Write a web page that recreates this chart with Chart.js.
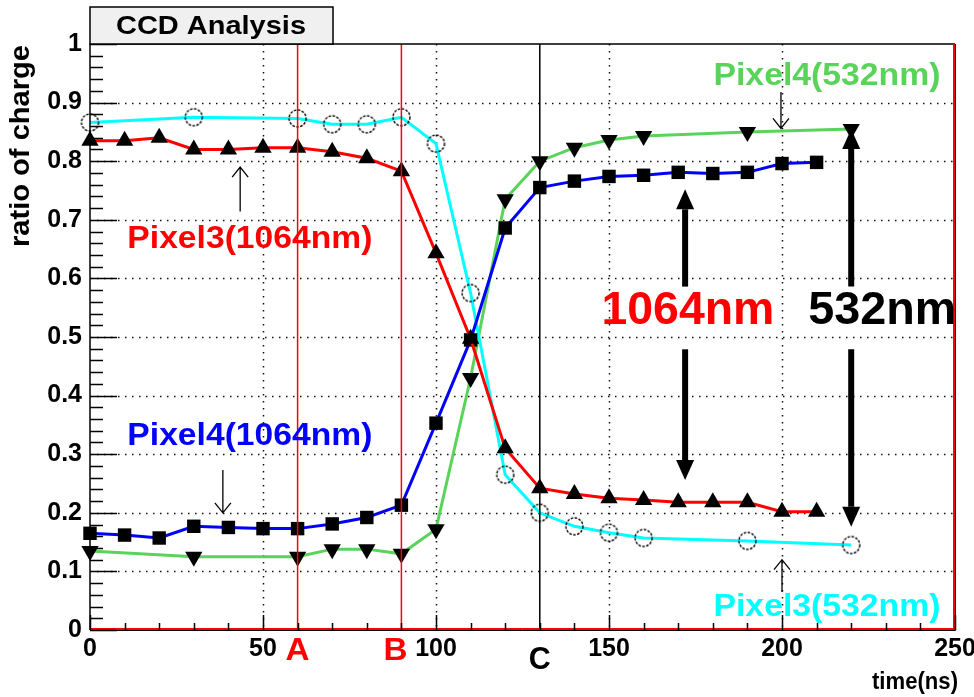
<!DOCTYPE html>
<html>
<head>
<meta charset="utf-8">
<script src="https://cdn.jsdelivr.net/npm/chart.js@4.4.1/dist/chart.umd.min.js"></script>
<style>
  html, body { margin: 0; padding: 0; background: #fff; }
  .chart-view { width: 974px; height: 697px; }
</style>
</head>
<body>
<div class="chart-view"><canvas class="chart" width="974" height="697"></canvas></div>
<script>
// 1064nm scans: every 10 ns
const times1064 = [0, 10, 20, 30, 40, 50, 60, 70, 80, 90, 100, 110, 120, 130, 140, 150, 160, 170, 180, 190, 200, 210];
const pixel3_1064 = [0.835, 0.835, 0.84, 0.82, 0.82, 0.823, 0.823, 0.816, 0.805, 0.783, 0.643, 0.497, 0.31, 0.242, 0.232, 0.225, 0.222, 0.218, 0.218, 0.218, 0.202, 0.202];
const pixel4_1064 = [0.165, 0.162, 0.157, 0.177, 0.175, 0.173, 0.173, 0.181, 0.192, 0.213, 0.353, 0.495, 0.686, 0.755, 0.766, 0.774, 0.776, 0.781, 0.779, 0.781, 0.796, 0.798];

// 532nm scans
const times532 = [0, 30, 60, 70, 80, 90, 100, 110, 120, 130, 140, 150, 160, 190, 220];
const pixel3_532 = [0.866, 0.875, 0.873, 0.863, 0.863, 0.875, 0.83, 0.575, 0.265, 0.2, 0.177, 0.166, 0.157, 0.152, 0.145];
const pixel4_532 = [0.135, 0.125, 0.125, 0.138, 0.138, 0.13, 0.172, 0.43, 0.735, 0.8, 0.823, 0.836, 0.843, 0.85, 0.855];

// reference times A, B, C
const refLabels = ['A', 'B', 'C'];
const refTimes = [60, 90, 130];

const xTickLabels = ['0', '50', '100', '150', '200', '250'];
const yTickLabels = ['0', '0.1', '0.2', '0.3', '0.4', '0.5', '0.6', '0.7', '0.8', '0.9', '1'];

const FONT = '"Liberation Sans", Arial, sans-serif';

const toPoints = (xs, ys) => xs.map((x, i) => ({ x, y: ys[i] }));

// open circle marker with a dotted outline
function dottedCircle() {
  const c = document.createElement('canvas');
  c.width = 21;
  c.height = 21;
  const g = c.getContext('2d');
  g.strokeStyle = '#000';
  g.lineWidth = 1.4;
  g.setLineDash([2.6, 1.4]);
  g.beginPath();
  g.arc(10.5, 10.5, 8.5, 0, Math.PI * 2);
  g.stroke();
  return c;
}

function fitText(ctx, text, cx, cy, size, width, color) {
  ctx.save();
  ctx.font = `bold ${size}px ${FONT}`;
  const w = ctx.measureText(text).width;
  ctx.translate(cx, cy);
  ctx.scale(width / w, 1);
  ctx.fillStyle = color;
  ctx.textAlign = 'center';
  ctx.textBaseline = 'middle';
  ctx.fillText(text, 0, 0);
  ctx.restore();
}

function thinArrow(ctx, x, y0, y1) {
  const dir = y1 > y0 ? 1 : -1;
  ctx.save();
  ctx.strokeStyle = '#000';
  ctx.lineWidth = 1.3;
  ctx.beginPath();
  ctx.moveTo(x, y0);
  ctx.lineTo(x, y1);
  ctx.moveTo(x - 8, y1 - dir * 10);
  ctx.lineTo(x, y1);
  ctx.lineTo(x + 8, y1 - dir * 10);
  ctx.stroke();
  ctx.restore();
}

function thickArrow(ctx, x, y0, y1) {
  const dir = y1 > y0 ? 1 : -1;
  const head = 20;
  ctx.save();
  ctx.strokeStyle = '#000';
  ctx.fillStyle = '#000';
  ctx.lineWidth = 6;
  ctx.beginPath();
  ctx.moveTo(x, y0);
  ctx.lineTo(x, y1 - dir * head);
  ctx.stroke();
  ctx.beginPath();
  ctx.moveTo(x, y1);
  ctx.lineTo(x - 9, y1 - dir * head);
  ctx.lineTo(x + 9, y1 - dir * head);
  ctx.closePath();
  ctx.fill();
  ctx.restore();
}

const ccdDecor = {
  id: 'ccdDecor',
  beforeDatasetsDraw(chart) {
    const { ctx, chartArea: a, scales: { x, y } } = chart;
    ctx.save();
    ctx.strokeStyle = '#111';
    ctx.lineWidth = 1.5;
    ctx.setLineDash([1.5, 5.5]);
    ctx.beginPath();
    for (let t = 50; t < 250; t += 50) {
      const px = Math.round(x.getPixelForValue(t)) + 0.5;
      ctx.moveTo(px, a.top);
      ctx.lineTo(px, a.bottom);
    }
    for (let i = 1; i < 10; i++) {
      const py = Math.round(y.getPixelForValue(i / 10)) + 0.5;
      ctx.moveTo(a.left, py);
      ctx.lineTo(a.right, py);
    }
    ctx.stroke();
    ctx.restore();
  },
  afterDatasetsDraw(chart) {
    const { ctx, chartArea: a, scales: { x, y } } = chart;
    const X = (t) => x.getPixelForValue(t);
    const Y = (v) => y.getPixelForValue(v);

    // reference lines A, B, C
    refTimes.forEach((t, i) => {
      const color = i < 2 ? '#ff0000' : '#000';
      ctx.save();
      ctx.strokeStyle = color;
      ctx.lineWidth = 1.5;
      ctx.beginPath();
      ctx.moveTo(X(t), a.top);
      ctx.lineTo(X(t), a.bottom);
      ctx.stroke();
      ctx.restore();
      const dx = i === 1 ? -6 : 0;
      const dy = i === 2 ? 30 : 21;
      fitText(ctx, refLabels[i], X(t) + dx, a.bottom + dy, 31, i === 2 ? 22 : 24, color);
    });

    // frame
    ctx.save();
    ctx.lineWidth = 1.5;
    ctx.strokeStyle = '#000';
    ctx.beginPath();
    ctx.moveTo(a.left, a.bottom);
    ctx.lineTo(a.left, a.top);
    ctx.lineTo(a.right, a.top);
    ctx.stroke();
    ctx.strokeStyle = '#ff0000';
    ctx.lineWidth = 2;
    ctx.beginPath();
    ctx.moveTo(a.left, a.bottom - 1);
    ctx.lineTo(a.right - 1, a.bottom - 1);
    ctx.lineTo(a.right - 1, a.top);
    ctx.stroke();
    ctx.strokeStyle = '#000';
    ctx.lineWidth = 1;
    ctx.beginPath();
    ctx.moveTo(a.left, a.bottom + 0.5);
    ctx.lineTo(a.right + 0.5, a.bottom + 0.5);
    ctx.lineTo(a.right + 0.5, a.top);
    ctx.stroke();

    // tick marks
    ctx.lineWidth = 1.5;
    ctx.beginPath();
    for (let i = 0; i <= 50; i++) {
      const py = Math.round(Y(i / 50)) + 0.5;
      const len = i % 5 === 0 ? 27 : 13;
      ctx.moveTo(a.left, py);
      ctx.lineTo(a.left + len, py);
    }
    for (let i = 0; i <= 25; i++) {
      const px = Math.round(X(i * 10)) + 0.5;
      const len = i % 5 === 0 ? 15 : 7;
      ctx.moveTo(px, a.bottom);
      ctx.lineTo(px, a.bottom - len);
    }
    ctx.stroke();
    ctx.restore();

    // series labels
    fitText(ctx, 'Pixel4(532nm)', X(213), Y(0.945), 31, 227, '#5ad35a');
    fitText(ctx, 'Pixel3(1064nm)', X(46.2), Y(0.667), 31, 245, '#ff0000');
    fitText(ctx, 'Pixel4(1064nm)', X(46.2), Y(0.33), 31, 245, '#0000ff');
    fitText(ctx, 'Pixel3(532nm)', X(213), Y(0.039), 31, 227, '#00ffff');

    thinArrow(ctx, X(43.4), Y(0.714), Y(0.79));
    thinArrow(ctx, X(38.4), Y(0.273), Y(0.2));
    thinArrow(ctx, X(199.7), Y(0.918), Y(0.856));
    thinArrow(ctx, X(200), Y(0.065), Y(0.12));

    // spread arrows
    thickArrow(ctx, X(172), Y(0.586), Y(0.752));
    thickArrow(ctx, X(172), Y(0.479), Y(0.256));
    thickArrow(ctx, X(220), Y(0.586), Y(0.855));
    thickArrow(ctx, X(220), Y(0.479), Y(0.176));
    fitText(ctx, '1064nm', X(172.8), Y(0.544), 47, 173, '#ff0000');
    fitText(ctx, '532nm', X(229), Y(0.544), 47, 148, '#000');

    // title box
    ctx.save();
    ctx.fillStyle = '#f0f0f0';
    ctx.fillRect(a.left, 7, 243, a.top - 7);
    ctx.strokeStyle = '#000';
    ctx.lineWidth = 1.5;
    ctx.strokeRect(a.left, 7, 243, a.top - 7);
    ctx.restore();
    fitText(ctx, 'CCD Analysis', a.left + 121, 27, 26, 190, '#000');

    // axis titles
    ctx.save();
    ctx.translate(21, 146);
    ctx.rotate(-Math.PI / 2);
    fitText(ctx, 'ratio of charge', 0, 0, 28, 202, '#000');
    ctx.restore();
    fitText(ctx, 'time(ns)', 915, 683, 23, 86, '#000');
  }
};

const tickFont = { family: FONT, size: 25, weight: 'bold' };

const config = {
  type: 'scatter',
  data: {
    datasets: [
      {
        label: 'Pixel3(1064nm)',
        data: toPoints(times1064, pixel3_1064),
        borderColor: '#ff0000',
        pointStyle: 'triangle',
        pointRadius: 10,
      },
      {
        label: 'Pixel4(1064nm)',
        data: toPoints(times1064, pixel4_1064),
        borderColor: '#0000ff',
        pointStyle: 'rect',
        pointRadius: 9.5,
      },
      {
        label: 'Pixel3(532nm)',
        data: toPoints(times532, pixel3_532),
        borderColor: '#00ffff',
        pointStyle: dottedCircle(),
        pointRadius: 9,
        pointBackgroundColor: 'rgba(0,0,0,0)',
      },
      {
        label: 'Pixel4(532nm)',
        data: toPoints(times532, pixel4_532),
        borderColor: '#5ad35a',
        pointStyle: 'triangle',
        pointRotation: 180,
        pointRadius: 10,
      },
    ],
  },
  plugins: [ccdDecor],
  options: {
    responsive: false,
    animation: false,
    devicePixelRatio: 1,
    layout: { padding: { top: 44, right: 19, left: 0, bottom: 0 } },
    datasets: {
      scatter: {
        showLine: true,
        borderWidth: 3,
        tension: 0,
        clip: false,
        pointBackgroundColor: '#000',
        pointBorderColor: '#000',
        pointBorderWidth: 0,
        pointHoverRadius: 10,
      },
    },
    plugins: {
      legend: { display: false },
      tooltip: { enabled: false },
    },
    scales: {
      x: {
        type: 'linear',
        min: 0,
        max: 250,
        grid: { display: false, drawTicks: false },
        border: { display: false },
        ticks: {
          stepSize: 50,
          autoSkip: false,
          maxRotation: 0,
          padding: 4,
          color: '#000',
          font: tickFont,
          callback: (v) => xTickLabels[Math.round(v / 50)],
        },
        afterFit(s) {
          s.height = 67;
          s.paddingLeft = 0;
          s.paddingRight = 0;
        },
      },
      y: {
        min: 0,
        max: 1,
        grid: { display: false, drawTicks: false },
        border: { display: false },
        ticks: {
          stepSize: 0.1,
          autoSkip: false,
          padding: 8,
          color: '#000',
          font: tickFont,
          callback: (v) => yTickLabels[Math.round(v * 10)],
        },
        afterFit(s) {
          s.width = 90;
          s.paddingTop = 0;
          s.paddingBottom = 0;
        },
      },
    },
  },
};

new Chart(document.querySelector('.chart'), config);
</script>
</body>
</html>
